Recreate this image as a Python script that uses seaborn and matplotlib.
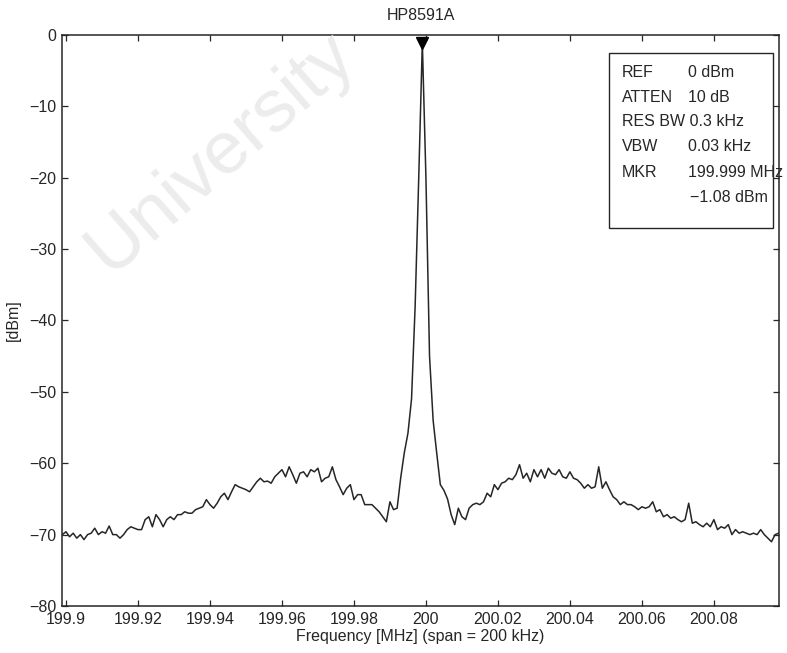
import numpy as np
import pandas as pd
import matplotlib
matplotlib.use("Agg")
import matplotlib.pyplot as plt
from matplotlib.patches import Rectangle
import seaborn as sns

# Spectrum analyzer trace: 1 kHz steps starting at 199.899 MHz
start_mhz = 199.899
step_mhz = 0.001
level_dbm = [
    -70.0, -69.6, -70.3, -69.8, -70.5, -70.0, -70.7, -70.0, -69.8, -69.1,
    -70.0, -69.6, -69.8, -68.8, -70.0, -70.0, -70.5, -70.0, -69.3, -68.9,
    -69.1, -69.3, -69.3, -67.9, -67.5, -68.9, -67.2, -67.9, -68.9, -67.9,
    -67.5, -67.9, -67.2, -67.2, -66.8, -67.0, -67.0, -66.5, -66.3, -66.1,
    -65.1, -65.8, -66.3, -65.6, -64.7, -64.2, -65.1, -64.0, -63.0, -63.3,
    -63.5, -63.7, -64.0, -63.3, -62.6, -62.1, -62.6, -62.5, -62.8, -61.9,
    -61.4, -60.9, -61.9, -60.5, -61.6, -62.8, -61.4, -61.2, -61.9, -60.9,
    -61.2, -60.7, -62.6, -62.1, -61.9, -60.5, -62.3, -63.3, -64.4, -63.5,
    -63.0, -65.1, -64.4, -64.4, -65.8, -65.8, -65.8, -66.3, -66.8, -67.5,
    -68.2, -65.4, -66.5, -66.3, -62.0, -58.5, -55.8, -51.0, -38.0, -20.0,
    -1.08, -20.0, -45.0, -54.0, -58.6, -63.0, -63.8, -65.0, -67.2, -68.6,
    -66.3, -67.5, -67.9, -66.3, -65.8, -65.6, -65.8, -65.4, -64.2, -64.7,
    -63.0, -63.7, -62.8, -62.6, -62.1, -62.3, -61.6, -60.2, -62.1, -61.4,
    -62.6, -60.9, -61.9, -60.9, -62.1, -60.7, -61.4, -61.6, -60.9, -61.9,
    -62.1, -61.2, -62.1, -62.3, -62.8, -63.5, -63.0, -63.5, -63.3, -60.5,
    -63.5, -62.6, -63.7, -64.7, -65.1, -65.8, -65.4, -65.8, -65.8, -66.1,
    -66.5, -66.1, -66.3, -66.1, -65.4, -66.8, -66.5, -67.5, -67.2, -67.7,
    -67.5, -67.9, -68.2, -67.9, -65.6, -68.4, -68.2, -68.6, -68.9, -68.4,
    -68.9, -67.9, -69.3, -68.9, -69.1, -68.6, -70.0, -69.3, -69.8, -69.6,
    -69.8, -70.0, -69.8, -70.0, -69.3, -70.0, -70.5, -71.0, -70.0, -69.8,
]
freq_mhz = np.round(start_mhz + step_mhz * np.arange(len(level_dbm)), 3)

# Marker readout
marker_freq = 199.999
marker_level = -1.08

xticks = [199.9, 199.92, 199.94, 199.96, 199.98, 200.0, 200.02, 200.04, 200.06, 200.08]
xticklabels = ["199.9", "199.92", "199.94", "199.96", "199.98", "200",
               "200.02", "200.04", "200.06", "200.08"]
yticks = [0, -10, -20, -30, -40, -50, -60, -70, -80]

settings_names = ["REF", "ATTEN", "RES BW 0.3 kHz", "VBW", "MKR", ""]
settings_values = ["0 dBm", "10 dB", "", "0.03 kHz", "199.999 MHz", "\u22121.08 dBm"]

df = pd.DataFrame({"freq": freq_mhz, "level": level_dbm})

sns.set_theme(style="ticks")
plt.rcParams["font.family"] = ["Liberation Sans", "DejaVu Sans"]
ink = "#262626"
fs = 11.5

fig = plt.figure(figsize=(7.87, 6.53), dpi=100)
ax = fig.add_axes([0.0788, 0.0720, 0.9111, 0.8744])

sns.lineplot(data=df, x="freq", y="level", ax=ax, color=ink, linewidth=1.1,
             sort=False, estimator=None, zorder=3)
ax.plot([marker_freq], [marker_level], marker="v", color="black",
        markersize=8, linestyle="none", zorder=4, clip_on=False)

ax.set_xlim(199.8989, 200.0981)
ax.set_ylim(-80, 0)
ax.set_xticks(xticks)
ax.set_xticklabels(xticklabels)
ax.set_yticks(yticks)
ax.tick_params(direction="in", length=4, width=0.9, color=ink, labelsize=fs,
               labelcolor=ink, top=True, right=True, pad=4)
for s in ax.spines.values():
    s.set_visible(True)
    s.set_color(ink)
    s.set_linewidth(1.1)

ax.set_title("HP8591A", fontsize=fs, color=ink, pad=11)
ax.set_xlabel("Frequency [MHz] (span = 200 kHz)", fontsize=fs, color=ink, labelpad=2)
ax.set_ylabel("[dBm]", fontsize=fs, color=ink, labelpad=6)

# Instrument settings box
ax.add_patch(Rectangle((0.763, 0.662), 0.2286, 0.3065, transform=ax.transAxes,
                       facecolor="white", edgecolor=ink, linewidth=1.0, zorder=5))
rows_y = [0.935, 0.891, 0.848, 0.804, 0.760, 0.716]
for yy, name, val in zip(rows_y, settings_names, settings_values):
    if name:
        ax.text(0.781, yy, name, transform=ax.transAxes, fontsize=fs,
                color=ink, va="center", ha="left", zorder=6)
    if val:
        if val.startswith("\u2212"):
            ax.text(0.985, yy, val, transform=ax.transAxes, fontsize=fs,
                    color=ink, va="center", ha="right", zorder=6)
        else:
            ax.text(0.873, yy, val, transform=ax.transAxes, fontsize=fs,
                    color=ink, va="center", ha="left", zorder=6, clip_on=False)

# Faint watermark across the upper left
fig.text(0.28, 0.765, "University", fontsize=54, color="#ececec",
         rotation=41, ha="center", va="center", zorder=0)
ax.set_facecolor("none")

fig.savefig("out.png", dpi=100)
